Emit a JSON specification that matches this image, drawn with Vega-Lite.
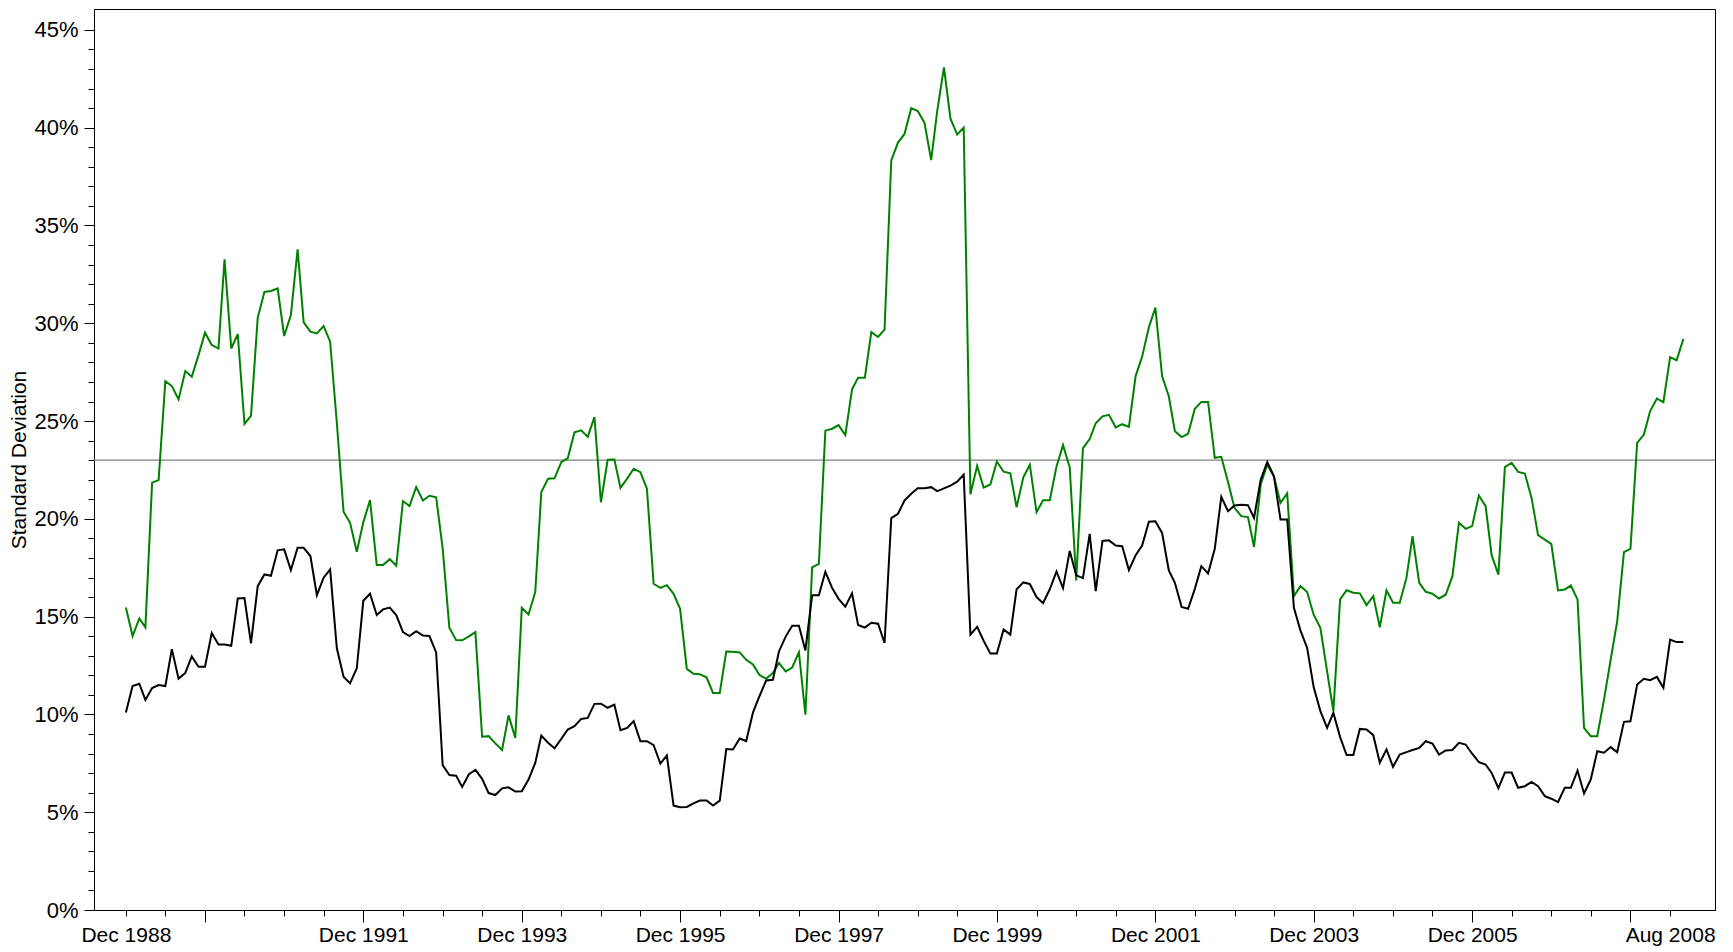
{
  "$schema": "https://vega.github.io/schema/vega-lite/v6.json",
  "width": 1621,
  "height": 901,
  "autosize": "none",
  "padding": {"left": 94, "top": 9, "right": 18, "bottom": 42},
  "background": "white",
  "config": {
    "view": {"stroke": "#000", "strokeWidth": 1},
    "font": "Liberation Sans",
    "axis": {"labelFont": "Liberation Sans", "titleFont": "Liberation Sans", "grid": false, "domainColor": "#000", "tickColor": "#000", "labelColor": "#000", "titleColor": "#000", "domainWidth": 1, "tickWidth": 1}
  },
  "layer": [
    {
      "data": {"values": [{"value": 23}]},
      "mark": {"type": "rule", "color": "#808080", "strokeWidth": 1.3},
      "encoding": {
        "y": {
          "field": "value",
          "type": "quantitative",
          "title": "Standard Deviation",
          "scale": {"domain": [0, 46.07], "nice": false, "zero": true},
          "axis": {
            "values": [0,1,2,3,4,5,6,7,8,9,10,11,12,13,14,15,16,17,18,19,20,21,22,23,24,25,26,27,28,29,30,31,32,33,34,35,36,37,38,39,40,41,42,43,44,45],
            "labelExpr": "datum.value % 5 == 0 ? datum.value + '%' : ''",
            "tickSize": {"condition": {"test": "datum.value % 5 == 0", "value": 10}, "value": 6},
            "labelFontSize": 22,
            "labelPadding": 6,
            "labelOverlap": false,
            "labelFlush": false,
            "titleFontSize": 21,
            "titleFontWeight": "normal",
            "titlePadding": 4
          }
        }
      }
    },
    {
      "data": {
        "format": {"parse": {"d": "utc:'%Y-%m'"}},
        "values": [
          {"d":"1988-12","g":15.47,"k":10.1},{"d":"1989-01","g":14.01,"k":11.45},{"d":"1989-02","g":14.91,"k":11.57},{"d":"1989-03","g":14.45,"k":10.74},{"d":"1989-04","g":21.85,"k":11.35},{"d":"1989-05","g":21.98,"k":11.5},{"d":"1989-06","g":27.04,"k":11.45},{"d":"1989-07","g":26.79,"k":13.34},{"d":"1989-08","g":26.11,"k":11.83},{"d":"1989-09","g":27.56,"k":12.12},{"d":"1989-10","g":27.27,"k":12.97},{"d":"1989-11","g":28.37,"k":12.44},{"d":"1989-12","g":29.52,"k":12.44},
          {"d":"1990-01","g":28.89,"k":14.16},{"d":"1990-02","g":28.71,"k":13.58},{"d":"1990-03","g":33.27,"k":13.58},{"d":"1990-04","g":28.71,"k":13.51},{"d":"1990-05","g":29.45,"k":15.93},{"d":"1990-06","g":24.85,"k":15.95},{"d":"1990-07","g":25.26,"k":13.63},{"d":"1990-08","g":30.28,"k":16.56},{"d":"1990-09","g":31.6,"k":17.16},{"d":"1990-10","g":31.65,"k":17.09},{"d":"1990-11","g":31.78,"k":18.39},{"d":"1990-12","g":29.35,"k":18.44},
          {"d":"1991-01","g":30.42,"k":17.38},{"d":"1991-02","g":33.78,"k":18.52},{"d":"1991-03","g":30.05,"k":18.52},{"d":"1991-04","g":29.57,"k":18.1},{"d":"1991-05","g":29.48,"k":16.1},{"d":"1991-06","g":29.86,"k":16.99},{"d":"1991-07","g":29.06,"k":17.42},{"d":"1991-08","g":24.9,"k":13.38},{"d":"1991-09","g":20.36,"k":11.93},{"d":"1991-10","g":19.8,"k":11.59},{"d":"1991-11","g":18.32,"k":12.36},{"d":"1991-12","g":19.82,"k":15.81},
          {"d":"1992-01","g":20.96,"k":16.17},{"d":"1992-02","g":17.64,"k":15.08},{"d":"1992-03","g":17.64,"k":15.37},{"d":"1992-04","g":17.94,"k":15.46},{"d":"1992-05","g":17.6,"k":15.08},{"d":"1992-06","g":20.91,"k":14.21},{"d":"1992-07","g":20.65,"k":14.01},{"d":"1992-08","g":21.63,"k":14.26},{"d":"1992-09","g":20.94,"k":14.03},{"d":"1992-10","g":21.18,"k":14.01},{"d":"1992-11","g":21.1,"k":13.17},{"d":"1992-12","g":18.49,"k":7.41},
          {"d":"1993-01","g":14.43,"k":6.9},{"d":"1993-02","g":13.8,"k":6.87},{"d":"1993-03","g":13.79,"k":6.29},{"d":"1993-04","g":13.99,"k":6.94},{"d":"1993-05","g":14.21,"k":7.16},{"d":"1993-06","g":8.86,"k":6.71},{"d":"1993-07","g":8.89,"k":5.98},{"d":"1993-08","g":8.52,"k":5.88},{"d":"1993-09","g":8.18,"k":6.22},{"d":"1993-10","g":9.95,"k":6.27},{"d":"1993-11","g":8.8,"k":6.06},{"d":"1993-12","g":15.45,"k":6.07},
          {"d":"1994-01","g":15.11,"k":6.67},{"d":"1994-02","g":16.25,"k":7.52},{"d":"1994-03","g":21.37,"k":8.92},{"d":"1994-04","g":22.05,"k":8.55},{"d":"1994-05","g":22.07,"k":8.27},{"d":"1994-06","g":22.9,"k":8.75},{"d":"1994-07","g":23.1,"k":9.23},{"d":"1994-08","g":24.43,"k":9.4},{"d":"1994-09","g":24.53,"k":9.77},{"d":"1994-10","g":24.19,"k":9.82},{"d":"1994-11","g":25.2,"k":10.54},{"d":"1994-12","g":20.85,"k":10.55},
          {"d":"1995-01","g":23.02,"k":10.34},{"d":"1995-02","g":23.03,"k":10.5},{"d":"1995-03","g":21.59,"k":9.19},{"d":"1995-04","g":22.06,"k":9.31},{"d":"1995-05","g":22.56,"k":9.66},{"d":"1995-06","g":22.39,"k":8.63},{"d":"1995-07","g":21.54,"k":8.63},{"d":"1995-08","g":16.68,"k":8.43},{"d":"1995-09","g":16.47,"k":7.49},{"d":"1995-10","g":16.61,"k":7.9},{"d":"1995-11","g":16.17,"k":5.34},{"d":"1995-12","g":15.4,"k":5.26},
          {"d":"1996-01","g":12.33,"k":5.27},{"d":"1996-02","g":12.08,"k":5.45},{"d":"1996-03","g":12.05,"k":5.6},{"d":"1996-04","g":11.9,"k":5.6},{"d":"1996-05","g":11.1,"k":5.34},{"d":"1996-06","g":11.1,"k":5.59},{"d":"1996-07","g":13.22,"k":8.23},{"d":"1996-08","g":13.2,"k":8.21},{"d":"1996-09","g":13.17,"k":8.77},{"d":"1996-10","g":12.79,"k":8.64},{"d":"1996-11","g":12.56,"k":10.09},{"d":"1996-12","g":12.02,"k":10.93},
          {"d":"1997-01","g":11.82,"k":11.74},{"d":"1997-02","g":12.12,"k":11.77},{"d":"1997-03","g":12.63,"k":13.22},{"d":"1997-04","g":12.2,"k":13.98},{"d":"1997-05","g":12.4,"k":14.54},{"d":"1997-06","g":13.18,"k":14.54},{"d":"1997-07","g":9.99,"k":13.27},{"d":"1997-08","g":17.52,"k":16.09},{"d":"1997-09","g":17.7,"k":16.09},{"d":"1997-10","g":24.51,"k":17.29},{"d":"1997-11","g":24.61,"k":16.47},{"d":"1997-12","g":24.79,"k":15.91},
          {"d":"1998-01","g":24.28,"k":15.51},{"d":"1998-02","g":26.62,"k":16.19},{"d":"1998-03","g":27.21,"k":14.57},{"d":"1998-04","g":27.21,"k":14.44},{"d":"1998-05","g":29.55,"k":14.69},{"d":"1998-06","g":29.3,"k":14.64},{"d":"1998-07","g":29.68,"k":13.65},{"d":"1998-08","g":38.33,"k":20.04},{"d":"1998-09","g":39.24,"k":20.26},{"d":"1998-10","g":39.68,"k":20.94},{"d":"1998-11","g":41.0,"k":21.28},{"d":"1998-12","g":40.85,"k":21.56},
          {"d":"1999-01","g":40.26,"k":21.56},{"d":"1999-02","g":38.34,"k":21.62},{"d":"1999-03","g":40.86,"k":21.42},{"d":"1999-04","g":43.09,"k":21.56},{"d":"1999-05","g":40.46,"k":21.7},{"d":"1999-06","g":39.65,"k":21.9},{"d":"1999-07","g":40.0,"k":22.26},{"d":"1999-08","g":21.26,"k":14.08},{"d":"1999-09","g":22.71,"k":14.48},{"d":"1999-10","g":21.6,"k":13.77},{"d":"1999-11","g":21.76,"k":13.11},{"d":"1999-12","g":22.93,"k":13.12},
          {"d":"2000-01","g":22.41,"k":14.34},{"d":"2000-02","g":22.33,"k":14.08},{"d":"2000-03","g":20.59,"k":16.4},{"d":"2000-04","g":22.12,"k":16.75},{"d":"2000-05","g":22.77,"k":16.67},{"d":"2000-06","g":20.34,"k":16.0},{"d":"2000-07","g":20.95,"k":15.69},{"d":"2000-08","g":20.95,"k":16.4},{"d":"2000-09","g":22.67,"k":17.31},{"d":"2000-10","g":23.78,"k":16.46},{"d":"2000-11","g":22.63,"k":18.36},{"d":"2000-12","g":16.85,"k":17.11},
          {"d":"2001-01","g":23.62,"k":16.97},{"d":"2001-02","g":24.08,"k":19.23},{"d":"2001-03","g":24.89,"k":16.3},{"d":"2001-04","g":25.24,"k":18.87},{"d":"2001-05","g":25.32,"k":18.9},{"d":"2001-06","g":24.68,"k":18.64},{"d":"2001-07","g":24.84,"k":18.6},{"d":"2001-08","g":24.7,"k":17.38},{"d":"2001-09","g":27.3,"k":18.14},{"d":"2001-10","g":28.3,"k":18.64},{"d":"2001-11","g":29.8,"k":19.85},{"d":"2001-12","g":30.8,"k":19.88},
          {"d":"2002-01","g":27.3,"k":19.28},{"d":"2002-02","g":26.27,"k":17.36},{"d":"2002-03","g":24.48,"k":16.73},{"d":"2002-04","g":24.18,"k":15.5},{"d":"2002-05","g":24.35,"k":15.4},{"d":"2002-06","g":25.63,"k":16.42},{"d":"2002-07","g":25.98,"k":17.58},{"d":"2002-08","g":25.98,"k":17.21},{"d":"2002-09","g":23.12,"k":18.47},{"d":"2002-10","g":23.17,"k":21.13},{"d":"2002-11","g":21.88,"k":20.39},{"d":"2002-12","g":20.56,"k":20.68},
          {"d":"2003-01","g":20.14,"k":20.72},{"d":"2003-02","g":20.09,"k":20.7},{"d":"2003-03","g":18.57,"k":20.05},{"d":"2003-04","g":21.76,"k":22.01},{"d":"2003-05","g":22.78,"k":22.9},{"d":"2003-06","g":22.15,"k":22.18},{"d":"2003-07","g":20.82,"k":19.97},{"d":"2003-08","g":21.3,"k":19.97},{"d":"2003-09","g":16.05,"k":15.45},{"d":"2003-10","g":16.56,"k":14.3},{"d":"2003-11","g":16.26,"k":13.4},{"d":"2003-12","g":15.1,"k":11.4},
          {"d":"2004-01","g":14.43,"k":10.17},{"d":"2004-02","g":12.2,"k":9.31},{"d":"2004-03","g":10.17,"k":10.08},{"d":"2004-04","g":15.88,"k":8.84},{"d":"2004-05","g":16.35,"k":7.92},{"d":"2004-06","g":16.22,"k":7.92},{"d":"2004-07","g":16.19,"k":9.26},{"d":"2004-08","g":15.59,"k":9.23},{"d":"2004-09","g":16.05,"k":8.94},{"d":"2004-10","g":14.46,"k":7.53},{"d":"2004-11","g":16.35,"k":8.21},{"d":"2004-12","g":15.71,"k":7.32},
          {"d":"2005-01","g":15.71,"k":7.95},{"d":"2005-02","g":16.98,"k":8.07},{"d":"2005-03","g":19.11,"k":8.18},{"d":"2005-04","g":16.73,"k":8.29},{"d":"2005-05","g":16.27,"k":8.63},{"d":"2005-06","g":16.17,"k":8.51},{"d":"2005-07","g":15.93,"k":7.95},{"d":"2005-08","g":16.12,"k":8.16},{"d":"2005-09","g":17.07,"k":8.18},{"d":"2005-10","g":19.8,"k":8.55},{"d":"2005-11","g":19.49,"k":8.46},{"d":"2005-12","g":19.63,"k":7.99},
          {"d":"2006-01","g":21.19,"k":7.56},{"d":"2006-02","g":20.65,"k":7.44},{"d":"2006-03","g":18.13,"k":7.01},{"d":"2006-04","g":17.15,"k":6.23},{"d":"2006-05","g":22.65,"k":7.03},{"d":"2006-06","g":22.86,"k":7.03},{"d":"2006-07","g":22.4,"k":6.25},{"d":"2006-08","g":22.32,"k":6.33},{"d":"2006-09","g":21.07,"k":6.55},{"d":"2006-10","g":19.17,"k":6.33},{"d":"2006-11","g":18.94,"k":5.82},{"d":"2006-12","g":18.72,"k":5.69},
          {"d":"2007-01","g":16.34,"k":5.51},{"d":"2007-02","g":16.39,"k":6.25},{"d":"2007-03","g":16.59,"k":6.25},{"d":"2007-04","g":15.88,"k":7.13},{"d":"2007-05","g":9.31,"k":5.96},{"d":"2007-06","g":8.89,"k":6.67},{"d":"2007-07","g":8.89,"k":8.12},{"d":"2007-08","g":10.76,"k":8.04},{"d":"2007-09","g":12.81,"k":8.33},{"d":"2007-10","g":14.77,"k":8.07},{"d":"2007-11","g":18.3,"k":9.62},{"d":"2007-12","g":18.47,"k":9.65},
          {"d":"2008-01","g":23.89,"k":11.53},{"d":"2008-02","g":24.31,"k":11.82},{"d":"2008-03","g":25.51,"k":11.75},{"d":"2008-04","g":26.15,"k":11.92},{"d":"2008-05","g":25.97,"k":11.36},{"d":"2008-06","g":28.27,"k":13.83},{"d":"2008-07","g":28.11,"k":13.7},{"d":"2008-08","g":29.2,"k":13.7}
        ]
      },
      "transform": [{"fold": ["g", "k"], "as": ["series", "value"]}],
      "mark": {"type": "line", "strokeWidth": 2, "interpolate": "linear"},
      "encoding": {
        "x": {
          "field": "d",
          "type": "temporal",
          "title": null,
          "scale": {"type": "utc", "domain": [{"year": 1988, "month": 7, "date": 7, "utc": true}, {"year": 2008, "month": 12, "date": 25, "utc": true}], "nice": false},
          "axis": {
            "values": [
              {"year":1988,"month":12,"date":1,"utc":true},{"year":1989,"month":6,"date":1,"utc":true},{"year":1989,"month":12,"date":1,"utc":true},{"year":1990,"month":6,"date":1,"utc":true},{"year":1990,"month":12,"date":1,"utc":true},{"year":1991,"month":6,"date":1,"utc":true},{"year":1991,"month":12,"date":1,"utc":true},{"year":1992,"month":6,"date":1,"utc":true},{"year":1992,"month":12,"date":1,"utc":true},{"year":1993,"month":6,"date":1,"utc":true},{"year":1993,"month":12,"date":1,"utc":true},{"year":1994,"month":6,"date":1,"utc":true},{"year":1994,"month":12,"date":1,"utc":true},{"year":1995,"month":6,"date":1,"utc":true},{"year":1995,"month":12,"date":1,"utc":true},{"year":1996,"month":6,"date":1,"utc":true},{"year":1996,"month":12,"date":1,"utc":true},{"year":1997,"month":6,"date":1,"utc":true},{"year":1997,"month":12,"date":1,"utc":true},{"year":1998,"month":6,"date":1,"utc":true},{"year":1998,"month":12,"date":1,"utc":true},{"year":1999,"month":6,"date":1,"utc":true},{"year":1999,"month":12,"date":1,"utc":true},{"year":2000,"month":6,"date":1,"utc":true},{"year":2000,"month":12,"date":1,"utc":true},{"year":2001,"month":6,"date":1,"utc":true},{"year":2001,"month":12,"date":1,"utc":true},{"year":2002,"month":6,"date":1,"utc":true},{"year":2002,"month":12,"date":1,"utc":true},{"year":2003,"month":6,"date":1,"utc":true},{"year":2003,"month":12,"date":1,"utc":true},{"year":2004,"month":6,"date":1,"utc":true},{"year":2004,"month":12,"date":1,"utc":true},{"year":2005,"month":6,"date":1,"utc":true},{"year":2005,"month":12,"date":1,"utc":true},{"year":2006,"month":6,"date":1,"utc":true},{"year":2006,"month":12,"date":1,"utc":true},{"year":2007,"month":6,"date":1,"utc":true},{"year":2007,"month":12,"date":1,"utc":true},{"year":2008,"month":6,"date":1,"utc":true}
            ],
            "labelExpr": "utcyear(datum.value) == 1988 ? 'Dec 1988' : (utcyear(datum.value) == 2008 && utcmonth(datum.value) == 5) ? 'Aug 2008' : (utcmonth(datum.value) == 11 && utcyear(datum.value) % 2 == 1 && utcyear(datum.value) >= 1991 && utcyear(datum.value) <= 2005) ? 'Dec ' + utcyear(datum.value) : ''",
            "tickSize": {"condition": {"test": "utcmonth(datum.value) == 11 && utcyear(datum.value) % 2 == 1", "value": 12}, "value": 6},
            "labelPadding": {"condition": {"test": "utcmonth(datum.value) == 11 && utcyear(datum.value) % 2 == 1", "value": 2}, "value": 8},
            "labelFontSize": 21,
            "labelOverlap": false,
            "labelFlush": false,
            "labelBound": false
          }
        },
        "y": {
          "field": "value",
          "type": "quantitative",
          "title": "Standard Deviation",
          "scale": {"domain": [0, 46.07], "nice": false, "zero": true},
          "axis": {
            "values": [0,1,2,3,4,5,6,7,8,9,10,11,12,13,14,15,16,17,18,19,20,21,22,23,24,25,26,27,28,29,30,31,32,33,34,35,36,37,38,39,40,41,42,43,44,45],
            "labelExpr": "datum.value % 5 == 0 ? datum.value + '%' : ''",
            "tickSize": {"condition": {"test": "datum.value % 5 == 0", "value": 10}, "value": 6},
            "labelFontSize": 22,
            "labelPadding": 6,
            "labelOverlap": false,
            "labelFlush": false,
            "titleFontSize": 21,
            "titleFontWeight": "normal",
            "titlePadding": 4
          }
        },
        "color": {"field": "series", "type": "nominal", "scale": {"domain": ["g", "k"], "range": ["#008000", "#000000"]}, "legend": null}
      }
    }
  ]
}
